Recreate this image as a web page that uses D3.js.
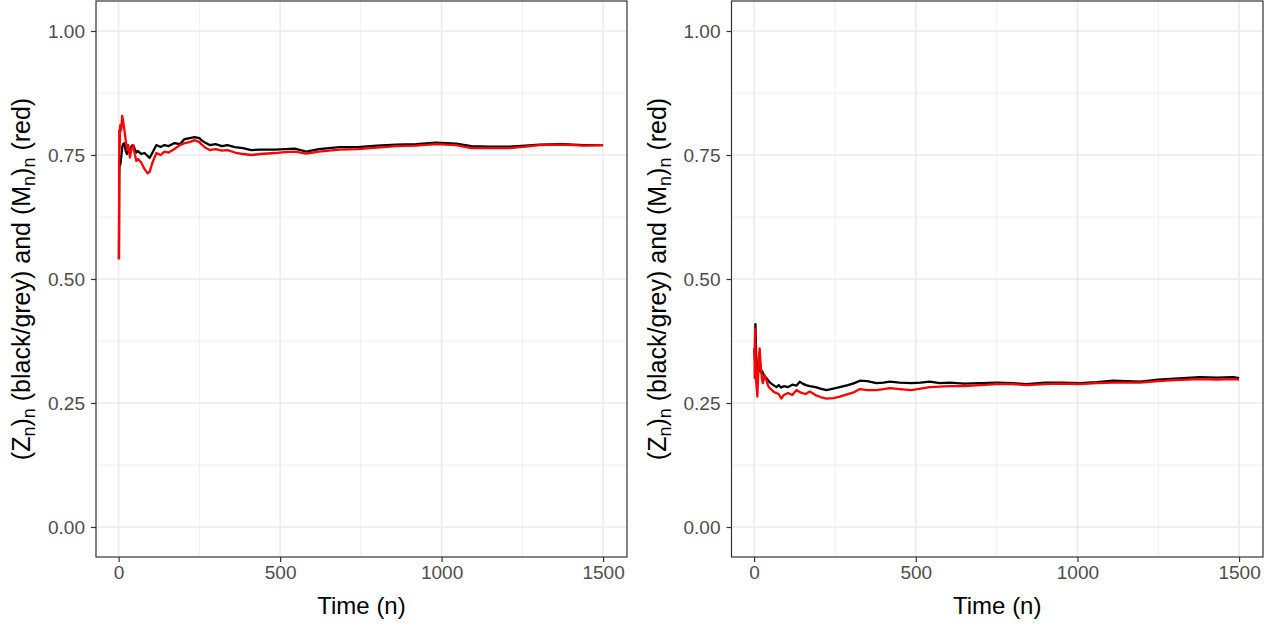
<!DOCTYPE html>
<html>
<head>
<meta charset="utf-8">
<script src="https://cdn.jsdelivr.net/npm/d3@7"></script>
<style>
  body { margin: 0; background: #fff; }
  text { font-family: "Liberation Sans", Arial, Helvetica, sans-serif; }
</style>
</head>
<body>
<div id="chart-container"></div>
<script>
// values
var xTicks = [0, 500, 1000, 1500];
var yTicks = [0, 0.25, 0.5, 0.75, 1];

var leftN = [1, 2, 3, 5, 8, 11, 14, 18, 22, 26, 30, 35, 40, 45, 50, 55, 60, 70, 80, 90, 96, 105, 117, 130, 142, 155, 173, 190, 204, 220, 235, 250, 256, 270, 282, 300, 320, 337, 360, 385, 411, 440, 483, 515, 545, 581, 620, 684, 740, 800, 860, 920, 983, 1045, 1092, 1150, 1210, 1260, 1303, 1375, 1440, 1500];
var leftZ = [0.54, 0.70, 0.74, 0.73, 0.745, 0.765, 0.772, 0.774, 0.758, 0.752, 0.760, 0.756, 0.768, 0.770, 0.762, 0.755, 0.758, 0.752, 0.754, 0.748, 0.744, 0.755, 0.770, 0.766, 0.770, 0.768, 0.774, 0.772, 0.782, 0.784, 0.786, 0.784, 0.780, 0.774, 0.770, 0.772, 0.768, 0.770, 0.766, 0.764, 0.760, 0.761, 0.761, 0.762, 0.763, 0.757, 0.762, 0.766, 0.766, 0.769, 0.771, 0.772, 0.775, 0.773, 0.768, 0.767, 0.767, 0.769, 0.771, 0.772, 0.770, 0.770];
var leftM = [0.54, 0.80, 0.76, 0.81, 0.80, 0.829, 0.818, 0.800, 0.780, 0.760, 0.770, 0.745, 0.762, 0.770, 0.752, 0.738, 0.742, 0.735, 0.722, 0.713, 0.716, 0.735, 0.754, 0.750, 0.757, 0.755, 0.762, 0.770, 0.774, 0.776, 0.780, 0.776, 0.772, 0.764, 0.760, 0.762, 0.759, 0.760, 0.755, 0.752, 0.750, 0.752, 0.754, 0.756, 0.757, 0.753, 0.757, 0.761, 0.762, 0.765, 0.768, 0.769, 0.772, 0.770, 0.764, 0.764, 0.764, 0.767, 0.770, 0.771, 0.769, 0.770];

var rightN = [1, 2, 3, 4, 6, 8, 10, 12, 15, 17, 20, 24, 27, 32, 38, 43, 48, 55, 62, 69, 76, 84, 92, 105, 118, 131, 141, 150, 160, 172, 190, 205, 224, 245, 265, 290, 310, 327, 350, 378, 400, 420, 450, 487, 515, 543, 574, 605, 650, 700, 750, 800, 843, 900, 950, 1008, 1060, 1110, 1150, 1194, 1250, 1300, 1379, 1430, 1482, 1500];
var rightZ = [0.36, 0.34, 0.38, 0.409, 0.35, 0.33, 0.325, 0.317, 0.322, 0.318, 0.312, 0.315, 0.310, 0.305, 0.300, 0.296, 0.292, 0.288, 0.285, 0.282, 0.286, 0.281, 0.284, 0.282, 0.287, 0.285, 0.293, 0.289, 0.286, 0.284, 0.282, 0.279, 0.276, 0.279, 0.282, 0.286, 0.290, 0.295, 0.294, 0.290, 0.291, 0.293, 0.291, 0.290, 0.291, 0.293, 0.290, 0.291, 0.289, 0.290, 0.291, 0.290, 0.288, 0.291, 0.291, 0.290, 0.292, 0.295, 0.294, 0.293, 0.297, 0.299, 0.302, 0.301, 0.302, 0.300];
var rightM = [0.36, 0.30, 0.40, 0.37, 0.296, 0.28, 0.263, 0.30, 0.345, 0.360, 0.330, 0.300, 0.290, 0.305, 0.296, 0.285, 0.280, 0.276, 0.272, 0.270, 0.268, 0.259, 0.266, 0.270, 0.266, 0.276, 0.272, 0.270, 0.268, 0.273, 0.266, 0.262, 0.259, 0.260, 0.263, 0.268, 0.272, 0.278, 0.276, 0.276, 0.278, 0.280, 0.278, 0.276, 0.279, 0.282, 0.283, 0.284, 0.284, 0.286, 0.288, 0.288, 0.286, 0.288, 0.289, 0.288, 0.290, 0.291, 0.291, 0.291, 0.294, 0.296, 0.298, 0.297, 0.298, 0.297];

var W = 1279, H = 624;
var svg = d3.select("#chart-container").append("svg")
    .attr("width", W).attr("height", H);

function drawPanel(left, right, ns, zs, ms) {
  var top = 1, bottom = 557;
  var x = d3.scaleLinear().domain([-70, 1574]).range([left, right]);
  var y = d3.scaleLinear().domain([-0.0605, 1.0605]).range([bottom, top]);

  var g = svg.append("g");

  // background grid, minor then major
  var minorX = [250, 750, 1250], minorY = [0.125, 0.375, 0.625, 0.875];
  g.selectAll(".minx").data(minorX).enter().append("line")
      .attr("x1", d => x(d)).attr("x2", d => x(d))
      .attr("y1", top).attr("y2", bottom)
      .attr("stroke", "#ebebeb").attr("stroke-width", 0.8);
  g.selectAll(".miny").data(minorY).enter().append("line")
      .attr("x1", left).attr("x2", right)
      .attr("y1", d => y(d)).attr("y2", d => y(d))
      .attr("stroke", "#ebebeb").attr("stroke-width", 0.8);
  g.selectAll(".majx").data(xTicks).enter().append("line")
      .attr("x1", d => x(d)).attr("x2", d => x(d))
      .attr("y1", top).attr("y2", bottom)
      .attr("stroke", "#ebebeb").attr("stroke-width", 1.6);
  g.selectAll(".majy").data(yTicks).enter().append("line")
      .attr("x1", left).attr("x2", right)
      .attr("y1", d => y(d)).attr("y2", d => y(d))
      .attr("stroke", "#ebebeb").attr("stroke-width", 1.6);

  var line = d3.line()
      .x(function(d) { return x(d[0]); })
      .y(function(d) { return y(d[1]); });

  g.append("path")
      .datum(d3.zip(ns, zs))
      .attr("fill", "none").attr("stroke", "#000000").attr("stroke-width", 2.3)
      .attr("stroke-linejoin", "round")
      .attr("d", line);
  g.append("path")
      .datum(d3.zip(ns, ms))
      .attr("fill", "none").attr("stroke", "#ff0000").attr("stroke-width", 2.3)
      .attr("stroke-linejoin", "round")
      .attr("d", line);

  // panel border
  g.append("rect")
      .attr("x", left).attr("y", top)
      .attr("width", right - left).attr("height", bottom - top)
      .attr("fill", "none").attr("stroke", "#333333").attr("stroke-width", 1.2);

  // axes
  var xAxis = g.append("g")
      .attr("transform", "translate(0," + bottom + ")")
      .call(d3.axisBottom(x).tickValues(xTicks).tickSize(5).tickPadding(4).tickFormat(d3.format("d")));
  var yAxis = g.append("g")
      .attr("transform", "translate(" + left + ",0)")
      .call(d3.axisLeft(y).tickValues(yTicks).tickSize(5).tickPadding(6).tickFormat(d3.format(".2f")));
  [xAxis, yAxis].forEach(function(a) {
    a.select(".domain").remove();
    a.selectAll(".tick line").attr("stroke", "#333333").attr("stroke-width", 1.2);
    a.selectAll(".tick text").attr("fill", "#4d4d4d")
        .style("font-size", "19px")
        .style("font-family", "'Liberation Sans', Arial, sans-serif");
  });

  // titles
  g.append("text")
      .attr("x", (left + right) / 2).attr("y", 614)
      .attr("text-anchor", "middle")
      .style("font-size", "24px")
      .text("Time (n)");

  var t = g.append("text")
      .attr("transform", "translate(" + (left - 66) + "," + ((top + bottom) / 2) + ") rotate(-90)")
      .attr("text-anchor", "middle")
      .style("font-size", "25px");
  t.append("tspan").text("(Z");
  t.append("tspan").attr("baseline-shift", "-25%").style("font-size", "18px").text("n");
  t.append("tspan").text(")");
  t.append("tspan").attr("baseline-shift", "-25%").style("font-size", "18px").text("n");
  t.append("tspan").text(" (black/grey) and (M");
  t.append("tspan").attr("baseline-shift", "-25%").style("font-size", "18px").text("n");
  t.append("tspan").text(")");
  t.append("tspan").attr("baseline-shift", "-25%").style("font-size", "18px").text("n");
  t.append("tspan").text(" (red)");
}

drawPanel(96, 627, leftN, leftZ, leftM);
drawPanel(731.5, 1263, rightN, rightZ, rightM);
</script>
</body>
</html>
